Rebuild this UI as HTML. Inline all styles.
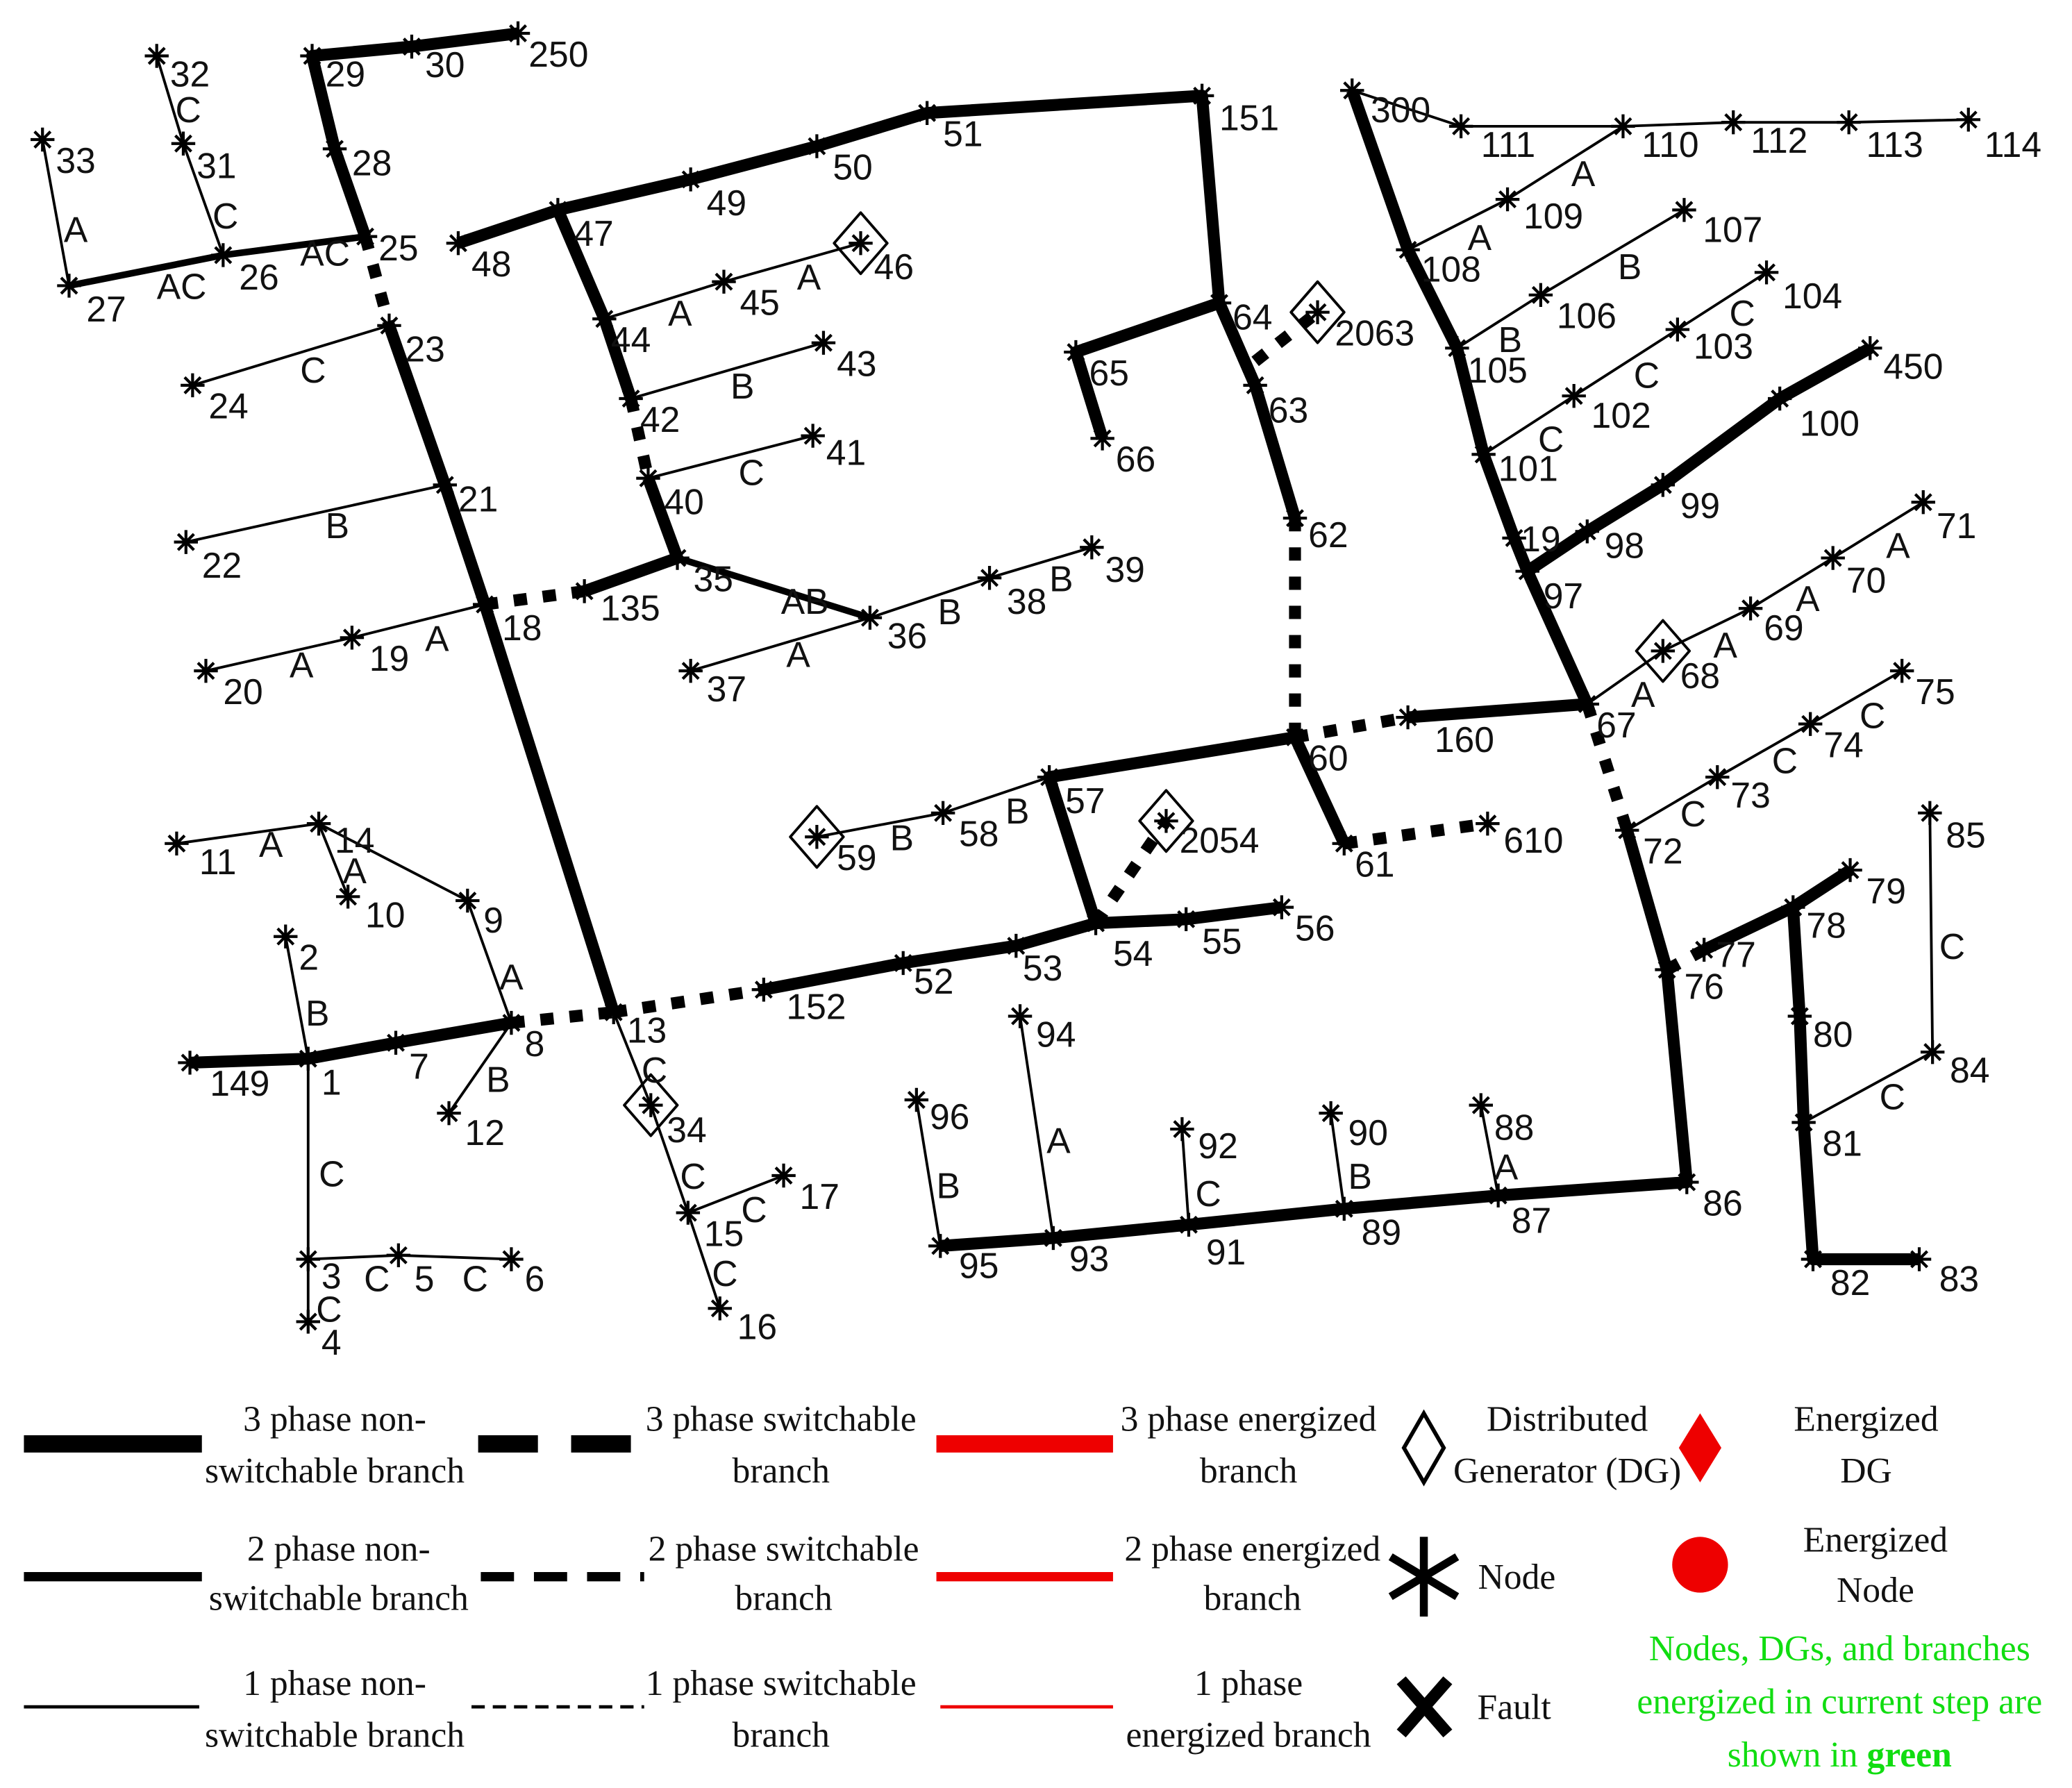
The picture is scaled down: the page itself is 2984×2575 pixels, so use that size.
<!DOCTYPE html>
<html><head><meta charset="utf-8"><style>
html,body{margin:0;padding:0;background:#fff}
svg{display:block}
text{font-family:"Liberation Sans",sans-serif;font-size:27px;fill:#111}
.lg{font-family:"Liberation Serif",serif;font-size:27px;text-anchor:middle}
</style></head><body>
<svg width="2984" height="2575" viewBox="0 0 1560 1346" xmlns="http://www.w3.org/2000/svg">
<defs>
<g id="s"><path d="M-9 0H9M0-9V9M-6-6L6 6M-6 6L6-6" stroke="#000" stroke-width="2.2"/></g>
</defs>
<g fill="none" stroke="#000" stroke-linecap="butt" stroke-linejoin="round">
<!-- 3 phase thick -->
<g stroke-width="9">
<polyline points="275,178 252,112 235,42 310,35 390,25"/>
<polyline points="293,245 335,365 365,455 462,762"/>
<polyline points="345,183 420,158 520,135 615,110 698,85 905,72 918,228 945,290 975,390"/>
<polyline points="918,228 810,265 830,330"/>
<polyline points="420,158 455,240 475,300"/>
<polyline points="488,360 510,420 440,445"/>
<polyline points="975,555 790,585 825,695 765,712 680,725 575,745"/>
<polyline points="825,695 893,692 965,683"/>
<polyline points="975,555 1012,635"/>
<polyline points="385,770 298,785 232,797 143,800"/>
<polyline points="1060,540 1195,530 1150,430 1140,405 1117,342 1097,262 1060,188 1018,68"/>
<polyline points="1150,430 1195,400 1252,365 1340,300 1408,262"/>
<polyline points="1225,625 1255,730 1270,890 1128,900 1012,910 895,922 793,932 708,938"/>
<polyline points="1283,715 1350,683 1393,655"/>
<polyline points="1350,683 1355,765 1358,845 1365,948 1445,948"/>
</g>
<g stroke-width="9" stroke-dasharray="10 12">
<line x1="275" y1="178" x2="293" y2="245"/>
<line x1="475" y1="300" x2="488" y2="360"/>
<line x1="365" y1="455" x2="440" y2="445"/>
<line x1="975" y1="390" x2="975" y2="555"/>
<line x1="975" y1="555" x2="1060" y2="540"/>
<line x1="462" y1="762" x2="575" y2="745"/>
<line x1="385" y1="770" x2="462" y2="762"/>
<line x1="1195" y1="530" x2="1225" y2="625"/>
<line x1="1255" y1="730" x2="1283" y2="715"/>
<line x1="825" y1="695" x2="878" y2="618"/>
<line x1="1012" y1="635" x2="1120" y2="620"/>
<line x1="945" y1="290" x2="918" y2="228" stroke-dasharray="0"/>
<line x1="945" y1="272" x2="992" y2="235"/>
</g>
<!-- 2 phase -->
<g stroke-width="5">
<polyline points="52,215 168,192 275,178"/>
<polyline points="510,420 655,465"/>
</g>
<!-- 1 phase -->
<g stroke-width="2">
<polyline points="52,215 32,105"/>
<polyline points="168,192 138,108 118,42"/>
<polyline points="293,245 145,290"/>
<polyline points="335,365 140,408"/>
<polyline points="365,455 265,480 155,505"/>
<polyline points="455,240 545,212 648,183"/>
<polyline points="475,300 620,258"/>
<polyline points="488,360 612,328"/>
<polyline points="520,505 655,465 745,435 822,412"/>
<polyline points="790,585 710,612 615,630"/>
<polyline points="385,770 352,678 240,620 133,635"/>
<polyline points="240,620 262,675"/>
<polyline points="385,770 338,838"/>
<polyline points="232,797 215,705"/>
<polyline points="232,797 232,948 232,995"/>
<polyline points="232,948 300,945 385,948"/>
<polyline points="462,762 490,832 518,913 542,985"/>
<polyline points="518,913 590,885"/>
<polyline points="1018,68 1100,95 1222,95 1305,92 1392,92 1482,90"/>
<polyline points="1060,188 1135,150 1222,95"/>
<polyline points="1097,262 1160,222 1268,158"/>
<polyline points="1117,342 1185,298 1263,248 1330,205"/>
<polyline points="1195,530 1252,490 1318,458 1380,420 1448,378"/>
<polyline points="1225,625 1293,585 1363,545 1432,505"/>
<polyline points="1358,845 1455,792 1453,612"/>
<polyline points="1128,900 1115,832"/>
<polyline points="1012,910 1002,838"/>
<polyline points="895,922 890,850"/>
<polyline points="793,932 768,765"/>
<polyline points="708,938 690,828"/>
</g>
<!-- DG diamonds -->
<g stroke-width="2">
<path d="M648,160 L668,183 L648,206 L628,183Z"/>
<path d="M992,212 L1012,235 L992,258 L972,235Z"/>
<path d="M878,595 L898,618 L878,641 L858,618Z"/>
<path d="M615,607 L635,630 L615,653 L595,630Z"/>
<path d="M1252,467 L1272,490 L1252,513 L1232,490Z"/>
<path d="M490,809 L510,832 L490,855 L470,832Z"/>
</g>
</g>
<!-- nodes -->
<g>
<use href="#s" x="32" y="105"/><use href="#s" x="52" y="215"/><use href="#s" x="118" y="42"/><use href="#s" x="138" y="108"/><use href="#s" x="168" y="192"/><use href="#s" x="275" y="178"/><use href="#s" x="235" y="42"/><use href="#s" x="310" y="35"/><use href="#s" x="390" y="25"/><use href="#s" x="252" y="112"/>
<use href="#s" x="293" y="245"/><use href="#s" x="145" y="290"/><use href="#s" x="335" y="365"/><use href="#s" x="140" y="408"/><use href="#s" x="365" y="455"/><use href="#s" x="265" y="480"/><use href="#s" x="155" y="505"/><use href="#s" x="462" y="762"/><use href="#s" x="440" y="445"/><use href="#s" x="510" y="420"/><use href="#s" x="655" y="465"/><use href="#s" x="520" y="505"/><use href="#s" x="745" y="435"/><use href="#s" x="822" y="412"/>
<use href="#s" x="345" y="183"/><use href="#s" x="420" y="158"/><use href="#s" x="520" y="135"/><use href="#s" x="615" y="110"/><use href="#s" x="698" y="85"/><use href="#s" x="905" y="72"/>
<use href="#s" x="455" y="240"/><use href="#s" x="545" y="212"/><use href="#s" x="648" y="183"/><use href="#s" x="475" y="300"/><use href="#s" x="620" y="258"/><use href="#s" x="488" y="360"/><use href="#s" x="612" y="328"/>
<use href="#s" x="918" y="228"/><use href="#s" x="810" y="265"/><use href="#s" x="830" y="330"/><use href="#s" x="945" y="290"/><use href="#s" x="975" y="390"/><use href="#s" x="975" y="555"/><use href="#s" x="992" y="235"/>
<use href="#s" x="790" y="585"/><use href="#s" x="615" y="630"/><use href="#s" x="710" y="612"/><use href="#s" x="825" y="695"/><use href="#s" x="878" y="618"/><use href="#s" x="893" y="692"/><use href="#s" x="965" y="683"/><use href="#s" x="765" y="712"/><use href="#s" x="680" y="725"/><use href="#s" x="575" y="745"/>
<use href="#s" x="385" y="770"/><use href="#s" x="298" y="785"/><use href="#s" x="232" y="797"/><use href="#s" x="143" y="800"/><use href="#s" x="215" y="705"/><use href="#s" x="232" y="948"/><use href="#s" x="232" y="995"/><use href="#s" x="300" y="945"/><use href="#s" x="385" y="948"/><use href="#s" x="352" y="678"/><use href="#s" x="240" y="620"/><use href="#s" x="133" y="635"/><use href="#s" x="262" y="675"/><use href="#s" x="338" y="838"/>
<use href="#s" x="490" y="832"/><use href="#s" x="518" y="913"/><use href="#s" x="542" y="985"/><use href="#s" x="590" y="885"/>
<use href="#s" x="1012" y="635"/><use href="#s" x="1120" y="620"/><use href="#s" x="1060" y="540"/><use href="#s" x="1195" y="530"/><use href="#s" x="1150" y="430"/><use href="#s" x="1140" y="405"/><use href="#s" x="1018" y="68"/><use href="#s" x="1060" y="188"/><use href="#s" x="1097" y="262"/><use href="#s" x="1117" y="342"/>
<use href="#s" x="1195" y="400"/><use href="#s" x="1252" y="365"/><use href="#s" x="1340" y="300"/><use href="#s" x="1408" y="262"/>
<use href="#s" x="1100" y="95"/><use href="#s" x="1222" y="95"/><use href="#s" x="1305" y="92"/><use href="#s" x="1392" y="92"/><use href="#s" x="1482" y="90"/><use href="#s" x="1135" y="150"/><use href="#s" x="1160" y="222"/><use href="#s" x="1268" y="158"/><use href="#s" x="1185" y="298"/><use href="#s" x="1263" y="248"/><use href="#s" x="1330" y="205"/>
<use href="#s" x="1252" y="490"/><use href="#s" x="1318" y="458"/><use href="#s" x="1380" y="420"/><use href="#s" x="1448" y="378"/><use href="#s" x="1225" y="625"/><use href="#s" x="1293" y="585"/><use href="#s" x="1363" y="545"/><use href="#s" x="1432" y="505"/>
<use href="#s" x="1255" y="730"/><use href="#s" x="1283" y="715"/><use href="#s" x="1350" y="683"/><use href="#s" x="1393" y="655"/><use href="#s" x="1355" y="765"/><use href="#s" x="1358" y="845"/><use href="#s" x="1365" y="948"/><use href="#s" x="1445" y="948"/><use href="#s" x="1455" y="792"/><use href="#s" x="1453" y="612"/><use href="#s" x="1270" y="890"/>
<use href="#s" x="1128" y="900"/><use href="#s" x="1012" y="910"/><use href="#s" x="895" y="922"/><use href="#s" x="793" y="932"/><use href="#s" x="708" y="938"/><use href="#s" x="1115" y="832"/><use href="#s" x="1002" y="838"/><use href="#s" x="890" y="850"/><use href="#s" x="768" y="765"/><use href="#s" x="690" y="828"/>
</g>
<!-- labels -->
<g>
<text x="42" y="130">33</text><text x="65" y="242">27</text><text x="128" y="65">32</text><text x="148" y="134">31</text><text x="180" y="218">26</text><text x="285" y="196">25</text><text x="245" y="65">29</text><text x="320" y="58">30</text><text x="398" y="50">250</text><text x="265" y="132">28</text>
<text x="305" y="272">23</text><text x="157" y="315">24</text><text x="345" y="385">21</text><text x="152" y="435">22</text><text x="378" y="482">18</text><text x="278" y="505">19</text><text x="168" y="530">20</text><text x="472" y="785">13</text><text x="452" y="467">135</text><text x="522" y="445">35</text><text x="668" y="488">36</text><text x="532" y="528">37</text><text x="758" y="462">38</text><text x="832" y="438">39</text>
<text x="355" y="208">48</text><text x="432" y="185">47</text><text x="532" y="162">49</text><text x="627" y="135">50</text><text x="710" y="110">51</text><text x="918" y="98">151</text>
<text x="460" y="265">44</text><text x="557" y="237">45</text><text x="658" y="210">46</text><text x="482" y="325">42</text><text x="630" y="283">43</text><text x="500" y="387">40</text><text x="622" y="350">41</text>
<text x="928" y="248">64</text><text x="820" y="290">65</text><text x="840" y="355">66</text><text x="955" y="318">63</text><text x="985" y="412">62</text><text x="985" y="580">60</text><text x="1005" y="260">2063</text>
<text x="802" y="612">57</text><text x="630" y="655">59</text><text x="722" y="637">58</text><text x="838" y="727">54</text><text x="888" y="642">2054</text><text x="905" y="718">55</text><text x="975" y="708">56</text><text x="770" y="738">53</text><text x="688" y="748">52</text><text x="592" y="767">152</text>
<text x="395" y="795">8</text><text x="308" y="812">7</text><text x="242" y="824">1</text><text x="158" y="825">149</text><text x="225" y="730">2</text><text x="242" y="970">3</text><text x="242" y="1020">4</text><text x="312" y="972">5</text><text x="395" y="972">6</text><text x="364" y="702">9</text><text x="252" y="642">14</text><text x="150" y="658">11</text><text x="275" y="698">10</text><text x="350" y="862">12</text>
<text x="502" y="860">34</text><text x="530" y="938">15</text><text x="555" y="1008">16</text><text x="602" y="910">17</text>
<text x="1020" y="660">61</text><text x="1132" y="642">610</text><text x="1080" y="566">160</text><text x="1202" y="555">67</text><text x="1162" y="458">97</text><text x="1145" y="415">19</text><text x="1032" y="92">300</text><text x="1070" y="212">108</text><text x="1105" y="288">105</text><text x="1128" y="362">101</text>
<text x="1208" y="420">98</text><text x="1265" y="390">99</text><text x="1355" y="328">100</text><text x="1418" y="285">450</text>
<text x="1115" y="118">111</text><text x="1236" y="118">110</text><text x="1318" y="115">112</text><text x="1405" y="118">113</text><text x="1494" y="118">114</text><text x="1147" y="172">109</text><text x="1172" y="247">106</text><text x="1282" y="182">107</text><text x="1198" y="322">102</text><text x="1275" y="270">103</text><text x="1342" y="232">104</text>
<text x="1265" y="518">68</text><text x="1328" y="482">69</text><text x="1390" y="446">70</text><text x="1458" y="405">71</text><text x="1237" y="650">72</text><text x="1303" y="608">73</text><text x="1373" y="570">74</text><text x="1442" y="530">75</text>
<text x="1268" y="752">76</text><text x="1292" y="728">77</text><text x="1360" y="706">78</text><text x="1405" y="680">79</text><text x="1365" y="788">80</text><text x="1372" y="870">81</text><text x="1378" y="975">82</text><text x="1460" y="972">83</text><text x="1468" y="815">84</text><text x="1465" y="638">85</text><text x="1282" y="915">86</text>
<text x="1138" y="928">87</text><text x="1125" y="858">88</text><text x="1025" y="937">89</text><text x="1015" y="862">90</text><text x="908" y="952">91</text><text x="902" y="872">92</text><text x="805" y="957">93</text><text x="780" y="788">94</text><text x="722" y="962">95</text><text x="700" y="850">96</text>
<!-- phase letters -->
<text x="48" y="182">A</text><text x="132" y="92">C</text><text x="160" y="172">C</text><text x="118" y="225">AC</text><text x="226" y="200">AC</text><text x="226" y="288">C</text><text x="245" y="405">B</text><text x="218" y="510">A</text><text x="320" y="490">A</text><text x="503" y="245">A</text><text x="600" y="218">A</text><text x="550" y="300">B</text><text x="556" y="365">C</text><text x="588" y="462">AB</text><text x="592" y="502">A</text><text x="706" y="470">B</text><text x="790" y="445">B</text><text x="670" y="640">B</text><text x="757" y="620">B</text><text x="195" y="645">A</text><text x="258" y="665">A</text><text x="376" y="745">A</text><text x="366" y="822">B</text><text x="230" y="772">B</text><text x="240" y="893">C</text><text x="274" y="972">C</text><text x="348" y="972">C</text><text x="238" y="995">C</text><text x="483" y="815">C</text><text x="512" y="895">C</text><text x="536" y="968">C</text><text x="558" y="920">C</text>
<text x="1183" y="140">A</text><text x="1105" y="188">A</text><text x="1218" y="210">B</text><text x="1128" y="265">B</text><text x="1302" y="245">C</text><text x="1230" y="292">C</text><text x="1158" y="340">C</text><text x="1420" y="420">A</text><text x="1352" y="460">A</text><text x="1290" y="495">A</text><text x="1228" y="532">A</text><text x="1400" y="548">C</text><text x="1334" y="582">C</text><text x="1265" y="622">C</text><text x="1460" y="722">C</text><text x="1415" y="835">C</text><text x="1125" y="888">A</text><text x="1015" y="895">B</text><text x="900" y="908">C</text><text x="788" y="868">A</text><text x="705" y="902">B</text>
</g>
<!-- legend -->
<g stroke-linecap="butt">
<line x1="18" y1="1087" x2="152" y2="1087" stroke="#000" stroke-width="13"/>
<line x1="360" y1="1087" x2="475" y2="1087" stroke="#000" stroke-width="13" stroke-dasharray="45 25"/>
<line x1="705" y1="1087" x2="838" y2="1087" stroke="#e00" stroke-width="13"/>
<line x1="18" y1="1187" x2="152" y2="1187" stroke="#000" stroke-width="7"/>
<line x1="362" y1="1187" x2="485" y2="1187" stroke="#000" stroke-width="7" stroke-dasharray="25 15"/>
<line x1="705" y1="1187" x2="838" y2="1187" stroke="#e00" stroke-width="7"/>
<line x1="18" y1="1285" x2="150" y2="1285" stroke="#000" stroke-width="2.5"/>
<line x1="355" y1="1285" x2="485" y2="1285" stroke="#000" stroke-width="2.5" stroke-dasharray="10 6"/>
<line x1="708" y1="1285" x2="838" y2="1285" stroke="#e00" stroke-width="2.5"/>
<path d="M1072,1064 L1087,1090 L1072,1116 L1057,1090Z" fill="none" stroke="#000" stroke-width="3"/>
<path d="M1280,1064 L1296,1090 L1280,1116 L1264,1090Z" fill="#e00"/>
<circle cx="1280" cy="1178" r="21" fill="#e00"/>
<path d="M1072,1157V1217M1047,1172L1097,1202M1047,1202L1097,1172" stroke="#000" stroke-width="6"/>
<path d="M1055,1265L1090,1305M1055,1305L1090,1265" stroke="#000" stroke-width="9"/>
</g>
<g class="lg">
<text class="lg" x="252" y="1077">3 phase non-</text><text class="lg" x="252" y="1116">switchable branch</text>
<text class="lg" x="588" y="1077">3 phase switchable</text><text class="lg" x="588" y="1116">branch</text>
<text class="lg" x="940" y="1077">3 phase energized</text><text class="lg" x="940" y="1116">branch</text>
<text class="lg" x="1180" y="1077">Distributed</text><text class="lg" x="1180" y="1116">Generator (DG)</text>
<text class="lg" x="1405" y="1077">Energized</text><text class="lg" x="1405" y="1116">DG</text>
<text class="lg" x="255" y="1175">2 phase non-</text><text class="lg" x="255" y="1212">switchable branch</text>
<text class="lg" x="590" y="1175">2 phase switchable</text><text class="lg" x="590" y="1212">branch</text>
<text class="lg" x="943" y="1175">2 phase energized</text><text class="lg" x="943" y="1212">branch</text>
<text class="lg" x="1142" y="1196">Node</text>
<text class="lg" x="1412" y="1168">Energized</text><text class="lg" x="1412" y="1206">Node</text>
<text class="lg" x="252" y="1276">1 phase non-</text><text class="lg" x="252" y="1315">switchable branch</text>
<text class="lg" x="588" y="1276">1 phase switchable</text><text class="lg" x="588" y="1315">branch</text>
<text class="lg" x="940" y="1276">1 phase</text><text class="lg" x="940" y="1315">energized branch</text>
<text class="lg" x="1140" y="1294">Fault</text>
<text class="lg" x="1385" y="1250" style="fill:#1d1">Nodes, DGs, and branches</text>
<text class="lg" x="1385" y="1290" style="fill:#1d1">energized in current step are</text>
<text class="lg" x="1385" y="1330" style="fill:#1d1">shown in <tspan font-weight="bold">green</tspan></text>
</g>
</svg>
</body></html>
